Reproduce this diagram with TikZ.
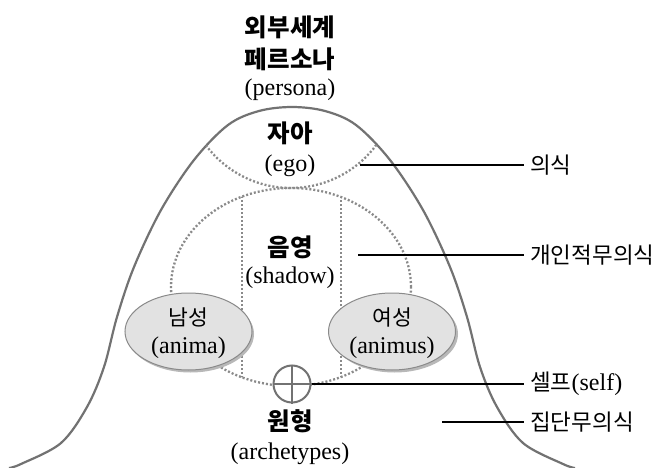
\documentclass[tikz,border=0pt]{standalone}
\usepackage{fontspec}
\setmainfont{Liberation Serif}
\newfontfamily\kr{Noto Sans CJK KR}
\usetikzlibrary{shapes.geometric}
\definecolor{curvegray}{HTML}{727272}
\definecolor{dotgray}{HTML}{8A8A8A}
\definecolor{ellfill}{HTML}{E2E2E2}
\definecolor{ellline}{HTML}{8A8A8A}
\definecolor{shadowgray}{HTML}{B8B8B8}
\begin{document}
\begin{tikzpicture}[x=1pt,y=-1pt,
  bell/.style={draw=curvegray, line width=2.2pt},
  dotline/.style={draw=dotgray, line width=2.3pt, dash pattern=on 2pt off 2pt},
  conn/.style={draw=black, line width=1.1pt},
  krhead/.style={font=\kr\bfseries\fontsize{24.5}{28}\selectfont, inner sep=0pt},
  krtext/.style={font=\kr\fontsize{21.5}{25}\selectfont, inner sep=0pt},
  entext/.style={font=\fontsize{24}{28}\selectfont, inner sep=0pt},
  rlabel/.style={font=\kr\fontsize{22.5}{26}\selectfont, anchor=west, inner xsep=6pt, inner ysep=0pt},
  archbox/.style={ellipse, draw=ellline, fill=ellfill, line width=1pt, minimum width=127pt, minimum height=77pt, inner sep=0pt},
  selfmark/.style={circle, draw=curvegray, fill=white, line width=2pt, minimum size=37pt, inner sep=0pt},
]
\useasboundingbox (0,0) rectangle (656,468);
\fill[white] (0,0) rectangle (656,468);

% bell curve
\def\bellcoords{(9,468) (21,464) (61,443) (87,407) (104,367) (117,317) (134,267) (161,210) (194,160) (228,125) (259,111) (292,107) (325,111) (356,125) (390,160) (423,210) (450,267) (467,317) (480,367) (497,407) (523,443) (563,464) (575,468)}
\draw[bell] plot[smooth, tension=0.55] coordinates {\bellcoords};

% ego boundary arc (clipped to the bell)
\begin{scope}
  \clip plot[smooth, tension=0.55] coordinates {\bellcoords} -- cycle;
  \draw[dotline] (291,82) ++(195:106pt) arc[start angle=195, end angle=345, radius=106pt];
\end{scope}

% personal unconscious region
\draw[dotline] (291,287) ellipse [x radius=120pt, y radius=99pt];
\begin{scope}
  \clip (291,287) ellipse [x radius=120pt, y radius=99pt];
  \draw[dotline] (242,180) -- (242,400);
  \draw[dotline] (341,180) -- (341,400);
\end{scope}

% anima / animus
\fill[shadowgray] (190.5,334) ellipse [x radius=63.5pt, y radius=38.5pt];
\fill[shadowgray] (394.5,334) ellipse [x radius=63.5pt, y radius=38.5pt];
\node[archbox] (anima) at (188.5,331.5) {};
\node[archbox] (animus) at (392,331.5) {};
\node[krtext] (namsung) at (188.5,317) {남성};
\node[entext] (animaen) at (188.5,348) {(anima)};
\node[krtext] (yeosung) at (392,317) {여성};
\node[entext] (animusen) at (392,348) {(animus)};

% self
\node[selfmark] (self) at (292,384) {};
\draw[curvegray, line width=2pt] (self.north) -- (self.south) (self.west) -- (self.east);

% centre texts
\node[krhead] (outer) at (290,27) {외부세계};
\node[krhead] (persona) at (290,59) {페르소나};
\node[entext] (personaen) at (290,90) {(persona)};
\node[krhead] (ego) at (290,133) {자아};
\node[entext] (egoen) at (290,166) {(ego)};
\node[krhead] (shadow) at (290,247) {음영};
\node[entext] (shadowen) at (290,278) {(shadow)};
\node[krhead] (arche) at (290,421) {원형};
\node[entext] (archeen) at (290,454) {(archetypes)};

% right labels and connectors
\coordinate (c1) at (360,165);
\node[rlabel] (l1) at (524,165) {의식};
\draw[conn] (c1) -- (l1.west);
\coordinate (c2) at (358,255);
\node[rlabel] (l2) at (524,255) {개인적무의식};
\draw[conn] (c2) -- (l2.west);
\node[rlabel] (l3) at (524,384) {셀프\fontspec{Liberation Serif}\fontsize{24}{28}\selectfont(self)};
\draw[conn] (self.east) -- (l3.west);
\coordinate (c4) at (442,422);
\node[rlabel] (l4) at (524,422) {집단무의식};
\draw[conn] (c4) -- (l4.west);
\end{tikzpicture}
\end{document}
